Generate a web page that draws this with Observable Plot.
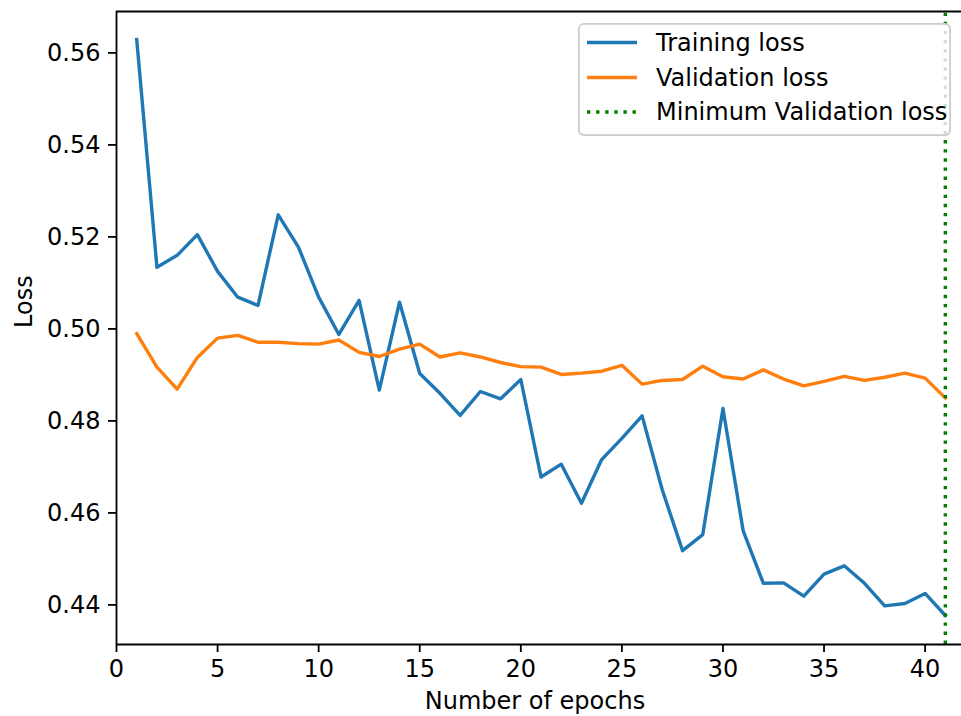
<!DOCTYPE html>
<html>
<head>
<meta charset="utf-8">
<script src="https://cdn.jsdelivr.net/npm/d3@7"></script>
<script src="https://cdn.jsdelivr.net/npm/@observablehq/plot@0.6"></script>
<style>
  html, body { margin: 0; padding: 0; background: #ffffff; }
  #wrap { position: relative; width: 961px; height: 716px; font-family: "DejaVu Sans", sans-serif; }
  #legend { position: absolute; left: 578px; top: 23px; }
</style>
</head>
<body>
<div id="wrap"></div>
<script>
// ---- data ----
const epochs = [1,2,3,4,5,6,7,8,9,10,11,12,13,14,15,16,17,18,19,20,21,22,23,24,25,26,27,28,29,30,31,32,33,34,35,36,37,38,39,40,41];
const trainingLoss = [0.5629, 0.5134, 0.5160, 0.5205, 0.5125, 0.5069, 0.5051, 0.5248, 0.5178, 0.5069,
  0.4988, 0.5062, 0.4867, 0.5058, 0.4903, 0.4860, 0.4812, 0.4864, 0.4848, 0.4890,
  0.4678, 0.4706, 0.4621, 0.4716, 0.4762, 0.4811, 0.4650, 0.4518, 0.4553, 0.4827,
  0.4561, 0.4447, 0.4448, 0.4419, 0.4467, 0.4485, 0.4447, 0.4398, 0.4403, 0.4425, 0.4377];
const validationLoss = [0.4990, 0.4917, 0.4869, 0.4938, 0.4980, 0.4986, 0.4971, 0.4971, 0.4968, 0.4967,
  0.4976, 0.4949, 0.4940, 0.4956, 0.4967, 0.4939, 0.4948, 0.4939, 0.4927, 0.4918,
  0.4917, 0.4901, 0.4904, 0.4908, 0.4921, 0.4880, 0.4888, 0.4890, 0.4919, 0.4896,
  0.4891, 0.4911, 0.4891, 0.4876, 0.4886, 0.4897, 0.4888, 0.4895, 0.4904, 0.4893, 0.4850];
const minValEpoch = [41];
const xTicks = [0, 5, 10, 15, 20, 25, 30, 35, 40];
const yTicks = [0.44, 0.46, 0.48, 0.50, 0.52, 0.54, 0.56];
const xDomain = [0, 41.8];
const yDomain = [0.4314, 0.569];
const seriesNames = ["Training loss", "Validation loss", "Minimum Validation loss"];
const seriesColors = ["#1f77b4", "#ff7f0e", "#008000"];
const xLabel = "Number of epochs";
const yLabel = "Loss";

const rows = epochs.map((e, i) => ({epoch: e, training: trainingLoss[i], validation: validationLoss[i]}));

const FS = 24;
const LW = 3.4;
const SPINE = 1.8;

const chart = Plot.plot({
  width: 961,
  height: 716,
  marginLeft: 116,
  marginRight: 0,
  marginTop: 11,
  marginBottom: 72,
  style: {fontFamily: "DejaVu Sans", fontSize: FS + "px", color: "#000", background: "#fff", overflow: "visible"},
  x: {domain: xDomain},
  y: {domain: yDomain},
  marks: [
    Plot.line(rows, {x: "epoch", y: "training", stroke: seriesColors[0], strokeWidth: LW, strokeLinejoin: "round", strokeLinecap: "square"}),
    Plot.line(rows, {x: "epoch", y: "validation", stroke: seriesColors[1], strokeWidth: LW, strokeLinejoin: "round", strokeLinecap: "square"}),
    Plot.ruleX(minValEpoch, {x: d => d, y1: yDomain[0], y2: yDomain[1], stroke: seriesColors[2], strokeWidth: LW, strokeDasharray: "3.4,5.7"}),
    Plot.axisX({ticks: xTicks, tickSize: 8, tickPadding: 7, tickFormat: d => String(d), label: null, fontSize: FS, strokeWidth: SPINE}),
    Plot.axisY({ticks: yTicks, tickSize: 8, tickPadding: 8, tickFormat: d => d.toFixed(2), label: null, fontSize: FS, strokeWidth: SPINE}),
    Plot.ruleX([xDomain[0]], {x: d => d, stroke: "#000", strokeWidth: SPINE}),
    Plot.ruleY([yDomain[0], yDomain[1]], {y: d => d, stroke: "#000", strokeWidth: SPINE}),
    Plot.text([xLabel], {text: d => d, frameAnchor: "bottom", lineAnchor: "top", dx: -4, dy: 47, fontSize: FS, fill: "#000"}),
    Plot.text([yLabel], {text: d => d, frameAnchor: "left", rotate: -90, dx: -92, fontSize: FS, fill: "#000"})
  ]
});

const wrap = document.getElementById("wrap");
wrap.appendChild(chart);

// ---- legend (HTML overlay, drawn with d3) ----
const lw = 373, lh = 113;
const leg = d3.select(wrap).append("svg")
  .attr("id", "legend")
  .attr("width", lw).attr("height", lh)
  .style("font-family", "DejaVu Sans").style("font-size", FS + "px");
leg.append("rect")
  .attr("x", SPINE / 2).attr("y", SPINE / 2)
  .attr("width", lw - SPINE).attr("height", lh - SPINE)
  .attr("rx", 5).attr("ry", 5)
  .attr("fill", "#ffffff").attr("fill-opacity", 0.8)
  .attr("stroke", "#cccccc").attr("stroke-width", SPINE);
const rowY = [19.5, 54.5, 89];
seriesNames.forEach((name, i) => {
  leg.append("line")
    .attr("x1", 9).attr("x2", 59).attr("y1", rowY[i]).attr("y2", rowY[i])
    .attr("stroke", seriesColors[i]).attr("stroke-width", LW)
    .attr("stroke-dasharray", i === 2 ? "3.4,5.7" : null);
  leg.append("text")
    .attr("x", 78).attr("y", rowY[i]).attr("dy", "0.35em")
    .attr("fill", "#000")
    .text(name);
});
</script>
</body>
</html>
